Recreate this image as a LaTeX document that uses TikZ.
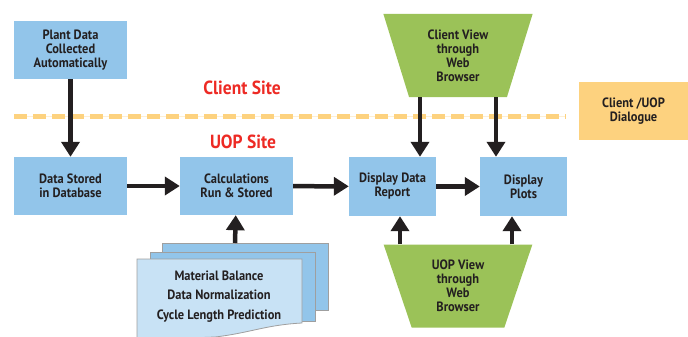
\documentclass[tikz,border=0pt]{standalone}
\usepackage{fontspec}
\setmainfont{PT Sans}[FakeStretch=0.92]
\usetikzlibrary{arrows.meta,positioning,shapes.geometric}
\definecolor{boxblue}{RGB}{146,197,234}
\definecolor{pageblue}{RGB}{200,226,245}
\definecolor{viewgreen}{RGB}{155,194,88}
\definecolor{talkorange}{RGB}{253,210,127}
\definecolor{siteRed}{RGB}{237,42,36}
\definecolor{ink}{RGB}{35,31,32}

\begin{document}
\begin{tikzpicture}[x=1pt,y=-1pt,
    font=\bfseries\fontsize{13.5}{14}\selectfont,
    stepbox/.style={fill=boxblue,text=ink,align=center,inner sep=0pt},
    view/.style={trapezium,trapezium left angle=107,trapezium right angle=107,
      trapezium stretches=true,fill=viewgreen,text=ink,align=center,
      minimum width=150pt,minimum height=83pt,inner sep=0pt},
    flow/.style={draw=ink,line width=4.5pt,-{Triangle[width=18pt,length=15pt]}},
    sheet/.style={fill=boxblue,draw=gray!75,line width=0.8pt}]
  \useasboundingbox (0,0) rectangle (688,337);
  % site border
  \draw[talkorange!35,line width=0.6pt] (14,116) -- (566,116);
  \draw[talkorange,line width=5pt,dash pattern=on 13pt off 6pt] (14,116) -- (566,116);
  \node[text=siteRed,font=\bfseries\fontsize{19}{22}\selectfont] (client) at (242,88) {Client Site};
  \node[text=siteRed,font=\bfseries\fontsize{19}{22}\selectfont] (uop) at (243,142) {UOP Site};
  % boxes
  \node[stepbox,minimum width=113pt,minimum height=58pt] (plant) at (70.5,50) {Plant Data\\Collected\\Automatically};
  \node[stepbox,minimum width=113pt,minimum height=58pt] (stored) at (70.5,186) {Data Stored\\in Database};
  \node[stepbox,minimum width=113pt,minimum height=58pt] (calc) at (236.5,186) {Calculations\\Run \& Stored};
  \node[stepbox,minimum width=87pt,minimum height=59pt] (report) at (392.5,186.5) {Display Data\\Report};
  \node[stepbox,minimum width=87pt,minimum height=59pt] (plots) at (523.5,186.5) {Display\\Plots};
  \node[stepbox,fill=talkorange,minimum width=109pt,minimum height=58pt] (dialog) at (633.5,111) {Client /UOP\\Dialogue};
  \node[view] (cview) at (458,55.5) {Client View\\through\\Web\\Browser};
  \node[view] (uview) at (458,286) {UOP View\\through\\Web\\Browser};
  % stacked pages
  \draw[sheet] (162,243) rectangle (328,310);
  \draw[sheet] (150,252) rectangle (315,321);
  \draw[sheet,fill=pageblue] (137,259) -- (302,259) -- (302,323)
    .. controls (265,325) and (250,333) .. (215,337) -- (137,340) -- cycle;
  \coordinate (pagetop) at (235,243);
  \node[text=ink,align=center,font=\bfseries\fontsize{13.5}{19.5}\selectfont] (methods) at (219,296.5)
    {Material Balance\\Data Normalization\\Cycle Length Prediction};
  % arrows
  \draw[flow] (plant) -- (stored);
  \draw[flow] (stored) -- (calc);
  \draw[flow] (calc) -- (report);
  \draw[flow] (report) -- (plots);
  \draw[flow] (pagetop) -- (calc);
  \draw[flow] (cview.south -| 420,0) -- (report.north -| 420,0);
  \draw[flow] (cview.south -| 496,0) -- (plots.north -| 496,0);
  \draw[flow] (uview.north -| 400,0) -- (report.south -| 400,0);
  \draw[flow] (uview.north -| 512,0) -- (plots.south -| 512,0);
\end{tikzpicture}
\end{document}
